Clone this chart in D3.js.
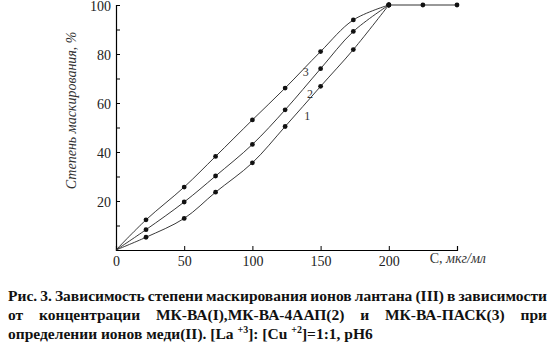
<!DOCTYPE html>
<html>
<head>
<meta charset="utf-8">
<script src="https://cdn.jsdelivr.net/npm/d3@7"></script>
<style>
  body { margin: 0; background: #fff; }
  text { font-family: "Liberation Serif", "Times New Roman", serif; }
</style>
</head>
<body>
<div id="chart"></div>
<script>
// data
const concX = [0, 22, 50, 73, 100, 124, 150, 174, 200];
const curve1 = [0, 5.2, 12.9, 23.6, 35.6, 50.4, 66.8, 81.8, 100];
const curve2 = [0, 8.3, 19.6, 30.2, 43.1, 57.2, 74.0, 89.2, 100];
const curve3 = [0, 12.3, 25.7, 38.2, 53.1, 66.1, 81.0, 93.9, 100];
const plateauX = [200, 225, 250];
const plateauY = [100, 100, 100];
const xTicks = [0, 50, 100, 150, 200];
const yTicks = [20, 40, 60, 80, 100];
const curveNames = ["1", "2", "3"];
const caption = [
  "Рис. 3.  Зависимость степени маскирования  ионов лантана (III) в зависимости",
  "от концентрации МК-ВА(I),МК-ВА-4ААП(2) и МК-ВА-ПАСК(3) при"
];

const serif = "'Liberation Serif', 'Times New Roman', serif";

const margin = {top: 5, right: 99, bottom: 106, left: 116},
    width = 556 - margin.left - margin.right,
    height = 356 - margin.top - margin.bottom;

const svgRoot = d3.select("#chart")
    .append("svg")
    .attr("width", 556)
    .attr("height", 356);

const svg = svgRoot.append("g")
    .attr("transform", `translate(${margin.left},${margin.top})`);

const x = d3.scaleLinear().domain([0, 250]).range([0, width]);
const y = d3.scaleLinear().domain([0, 100]).range([height, 0]);

// X axis
const xAxis = svg.append("g")
    .attr("transform", `translate(0,${height})`)
    .call(d3.axisBottom(x).tickValues([0, 50, 100, 150, 200, 250]).tickSize(-4).tickPadding(6)
        .tickFormat(d => xTicks.includes(d) ? d : ""));
xAxis.attr("font-family", serif);
xAxis.select(".domain").attr("stroke-width", 1.2);
xAxis.selectAll("text").style("font-size", "14px").attr("fill", "#222");

// Y axis
const yAxis = svg.append("g")
    .call(d3.axisLeft(y).tickValues(d3.range(10, 101, 10)).tickSize(-4).tickPadding(5)
        .tickFormat(d => yTicks.includes(d) ? d : ""));
yAxis.attr("font-family", serif);
yAxis.select(".domain").attr("stroke-width", 1.2);
yAxis.selectAll("text").style("font-size", "14px").attr("fill", "#222").attr("dy", "0.36em");

// axis labels
svg.append("text")
    .attr("transform", `translate(-40,${y(57)}) rotate(-90)`)
    .attr("text-anchor", "middle")
    .style("font-size", "14px")
    .style("font-style", "italic")
    .attr("fill", "#333")
    .text("Степень маскирования, %");

const xl = svg.append("text")
    .attr("x", x(230))
    .attr("y", height + 13)
    .style("font-size", "14px")
    .attr("fill", "#333");
xl.append("tspan").text("C, ");
xl.append("tspan").style("font-style", "italic").text("мкг/мл");

// curves
const line = d3.line()
    .x(d => x(d[0]))
    .y(d => y(d[1]))
    .curve(d3.curveCatmullRom.alpha(0.5));

const series = [curve1, curve2, curve3];
series.forEach(vals => {
  const pts = concX.map((c, i) => [c, vals[i]]);
  svg.append("path")
      .datum(pts)
      .attr("fill", "none")
      .attr("stroke", "#222")
      .attr("stroke-width", 0.9)
      .attr("d", line);
  svg.append("g")
      .selectAll("circle")
      .data(pts.slice(1))
      .join("circle")
      .attr("cx", d => x(d[0]))
      .attr("cy", d => y(d[1]))
      .attr("r", 2.4)
      .attr("fill", "#111");
});

// plateau
const plat = plateauX.map((c, i) => [c, plateauY[i]]);
svg.append("path")
    .datum(plat)
    .attr("fill", "none")
    .attr("stroke", "#333")
    .attr("stroke-width", 1)
    .attr("d", d3.line().x(d => x(d[0])).y(d => y(d[1])));
svg.append("g")
    .selectAll("circle")
    .data(plat)
    .join("circle")
    .attr("cx", d => x(d[0]))
    .attr("cy", d => y(d[1]))
    .attr("r", 2.4)
    .attr("fill", "#111");

// curve numbers
curveNames.forEach((n, i) => {
  svg.append("text")
      .attr("x", x([138, 140, 137][i]))
      .attr("y", y([53, 62, 71][i]))
      .style("font-size", "12px")
      .attr("fill", "#333")
      .text(n);
});

// caption, justified lines
const capX0 = 8, capX1 = 547, capSize = "15.5px";
caption.forEach((t, i) => {
  const words = t.split(/\s+/);
  const g = svgRoot.append("g");
  const nodes = words.map(w => g.append("text")
      .attr("y", 301 + i * 19)
      .style("font-size", capSize)
      .style("font-weight", "bold")
      .attr("fill", "#111")
      .text(w));
  const widths = nodes.map(n => n.node().getComputedTextLength());
  const gap = (capX1 - capX0 - d3.sum(widths)) / (words.length - 1);
  let cx = capX0;
  nodes.forEach((n, k) => { n.attr("x", cx); cx += widths[k] + gap; });
});
const last = svgRoot.append("text")
    .attr("x", 8)
    .attr("y", 339)
    .style("font-size", capSize)
    .style("font-weight", "bold")
    .attr("fill", "#111");
last.append("tspan").text("определении ионов меди(II). [La ");
last.append("tspan").attr("dy", -6).style("font-size", "10px").text("+3");
last.append("tspan").attr("dy", 6).text("]: [Cu ");
last.append("tspan").attr("dy", -6).style("font-size", "10px").text("+2");
last.append("tspan").attr("dy", 6).text("]=1:1, pH6");
</script>
</body>
</html>
